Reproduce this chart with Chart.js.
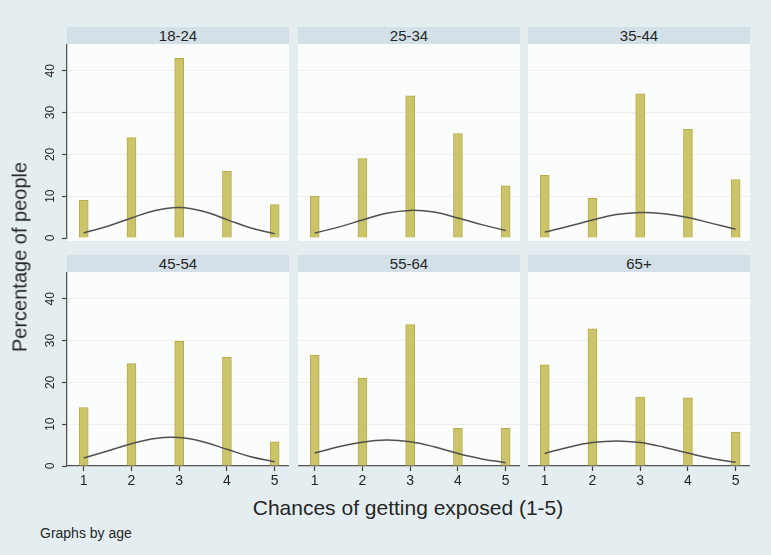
<!DOCTYPE html>
<html>
<head>
<meta charset="utf-8">
<script src="https://cdn.jsdelivr.net/npm/chart.js@4/dist/chart.umd.min.js"></script>
<style>
  html, body { margin: 0; padding: 0; }
  body {
    width: 771px; height: 555px; position: relative; overflow: hidden;
    background: #e4eef1;
    font-family: "Liberation Sans", Arial, sans-serif; color: #2e2e2e;
  }
  .plotbg { position: absolute; background: #fbfcfc; }
  .strip {
    position: absolute; background: #d4e0e7; text-align: center;
    font-size: 15px; line-height: 17px; color: #262626;
  }
  canvas { position: absolute; }
  .label { position: absolute; white-space: nowrap; color: #262626; }
</style>
</head>
<body>
<div id="root"></div>
<div class="label" id="ytitle">Percentage of people</div>
<div class="label" id="xtitle">Chances of getting exposed (1-5)</div>
<div class="label" id="note">Graphs by age</div>

<script>
// ---- data ----
const ageGroups = ['18-24', '25-34', '35-44', '45-54', '55-64', '65+'];
const exposureLevels = [1, 2, 3, 4, 5];
const yTickValues = [0, 10, 20, 30, 40];

// percentage of people answering each exposure level, per age group
const pct_18_24 = [9, 24, 43, 16, 8];
const pct_25_34 = [10, 19, 34, 25, 12.5];
const pct_35_44 = [15, 9.5, 34.5, 26, 14];
const pct_45_54 = [14, 24.5, 29.8, 26, 5.8];
const pct_55_64 = [26.5, 21, 33.8, 9, 9];
const pct_65plus = [24.2, 32.8, 16.5, 16.3, 8.1];

// fitted normal curve, sampled at half steps
const curveX = [1, 1.5, 2, 2.5, 3, 3.5, 4, 4.5, 5];
const normal_18_24 = [1.2, 2.8, 4.8, 6.6, 7.3, 6.4, 4.4, 2.4, 1.0];
const normal_25_34 = [1.2, 2.6, 4.3, 5.9, 6.6, 6.2, 4.8, 3.2, 1.8];
const normal_35_44 = [1.4, 2.8, 4.3, 5.6, 6.1, 5.8, 4.9, 3.5, 2.1];
const normal_45_54 = [1.9, 3.6, 5.3, 6.6, 6.8, 5.8, 4.0, 2.2, 1.0];
const normal_55_64 = [3.1, 4.6, 5.7, 6.2, 5.8, 4.6, 3.0, 1.7, 0.8];
const normal_65plus = [3.0, 4.5, 5.6, 6.0, 5.6, 4.5, 3.1, 1.8, 0.9];

const barSeries = [pct_18_24, pct_25_34, pct_35_44, pct_45_54, pct_55_64, pct_65plus];
const curveSeries = [normal_18_24, normal_25_34, normal_35_44, normal_45_54, normal_55_64, normal_65plus];

// ---- layout ----
const colLeft = [67, 298, 528];
const rowTop = [44, 272];
const plotW = 222, plotH = 194;
const stripH = 17;
const yAxisW = 47, xAxisH = 30, topRowPad = 6;
const X_MIN = 0.65, X_MAX = 5.3, Y_MAX = 46.4;

const root = document.getElementById('root');

// vertical tick labels on the left axis, reading bottom to top
const rotatedYTicks = {
  id: 'rotatedYTicks',
  afterDraw(chart) {
    const s = chart.scales.y;
    if (!chart.options.plugins.rotatedYTicks.show) return;
    const ctx = chart.ctx;
    ctx.save();
    ctx.font = '12px "Liberation Sans", Arial, sans-serif';
    ctx.fillStyle = '#262626';
    ctx.textAlign = 'center';
    ctx.textBaseline = 'middle';
    const x = chart.chartArea.left - 16;
    s.ticks.forEach(t => {
      const y = s.getPixelForValue(t.value);
      ctx.save();
      ctx.translate(x, y);
      ctx.rotate(-Math.PI / 2);
      ctx.fillText(String(t.value), 0, 0);
      ctx.restore();
    });
    ctx.restore();
  }
};

ageGroups.forEach((name, i) => {
  const r = Math.floor(i / 3), c = i % 3;
  const left = colLeft[c], top = rowTop[r];
  const hasY = c === 0, hasX = r === 1;

  const bg = document.createElement('div');
  bg.className = 'plotbg';
  Object.assign(bg.style, { left: left + 'px', top: top + 'px', width: plotW + 'px', height: (plotH + (hasX ? 0 : 3)) + 'px' });
  root.appendChild(bg);

  const strip = document.createElement('div');
  strip.className = 'strip';
  strip.textContent = name;
  Object.assign(strip.style, { left: left + 'px', top: (top - stripH) + 'px', width: plotW + 'px', height: stripH + 'px' });
  root.appendChild(strip);

  const cw = plotW + (hasY ? yAxisW : 0);
  const chh = plotH + (hasX ? xAxisH : topRowPad);
  const cv = document.createElement('canvas');
  cv.width = cw; cv.height = chh;
  Object.assign(cv.style, { left: (left - (hasY ? yAxisW : 0)) + 'px', top: top + 'px', width: cw + 'px', height: chh + 'px' });
  root.appendChild(cv);

  new Chart(cv.getContext('2d'), {
    type: 'bar',
    data: {
      datasets: [
        {
          type: 'line',
          data: curveX.map((x, k) => ({ x, y: curveSeries[i][k] })),
          borderColor: '#505050',
          borderWidth: 1.5,
          pointRadius: 0,
          tension: 0.4,
          fill: false,
          order: 0
        },
        {
          type: 'bar',
          data: exposureLevels.map((x, k) => ({ x, y: barSeries[i][k] })),
          backgroundColor: '#cbc468',
          borderColor: '#b6ad4a',
          borderWidth: 1,
          barThickness: 9,
          order: 1
        }
      ]
    },
    options: {
      responsive: false,
      animation: false,
      devicePixelRatio: 1,
      layout: { padding: { left: 0, right: 0, top: 0, bottom: hasX ? 0 : topRowPad } },
      plugins: { legend: { display: false }, tooltip: { enabled: false }, rotatedYTicks: { show: hasY } },
      scales: {
        x: {
          type: 'linear',
          min: X_MIN, max: X_MAX,
          offset: false,
          display: hasX,
          afterBuildTicks: s => { s.ticks = exposureLevels.map(v => ({ value: v })); },
          afterFit: s => { s.height = hasX ? xAxisH : 0; },
          grid: { display: true, drawOnChartArea: false, offset: false, tickLength: 5, tickColor: '#444', tickWidth: 1.2 },
          border: { display: true, color: '#555', width: 1.3 },
          ticks: { font: { size: 14, family: '"Liberation Sans", Arial, sans-serif' }, color: '#262626', padding: 2, maxRotation: 0 }
        },
        y: {
          type: 'linear',
          min: 0, max: Y_MAX,
          afterBuildTicks: s => { s.ticks = yTickValues.map(v => ({ value: v })); },
          afterFit: s => { s.width = hasY ? yAxisW : 0; },
          grid: {
            color: ctx => (ctx.tick && ctx.tick.value === 0) ? 'rgba(0,0,0,0)' : '#f3eeec',
            lineWidth: 1,
            drawTicks: hasY,
            tickLength: 5,
            tickColor: '#444',
            tickWidth: 1.2
          },
          border: { display: hasY, color: '#555', width: 1.3 },
          ticks: { display: false }
        }
      }
    },
    plugins: [rotatedYTicks]
  });
});

// axis titles and note
const yt = document.getElementById('ytitle');
Object.assign(yt.style, { fontSize: '20px', left: '20px', top: '257px', transform: 'translate(-50%, -50%) rotate(-90deg)' });
const xt = document.getElementById('xtitle');
Object.assign(xt.style, { fontSize: '21px', left: '408px', top: '508px', transform: 'translate(-50%, -50%)' });
const nt = document.getElementById('note');
Object.assign(nt.style, { fontSize: '14px', left: '40px', top: '533px', transform: 'translate(0, -50%)' });
</script>
</body>
</html>
